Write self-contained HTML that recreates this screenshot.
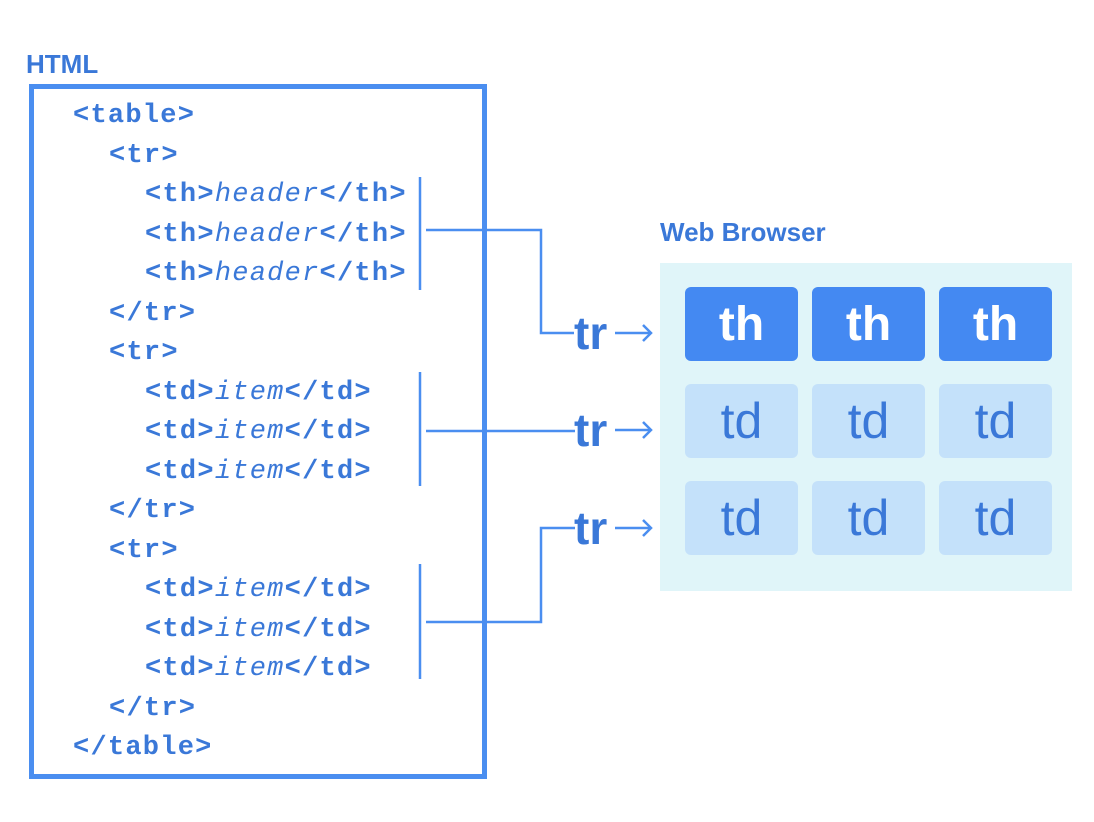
<!DOCTYPE html>
<html><head><meta charset="utf-8"><style>
body{margin:0;width:1094px;height:822px;background:#fff;position:relative;overflow:hidden;font-family:"Liberation Sans",sans-serif;}
.a{position:absolute;white-space:pre;}
.code{font-family:"Liberation Mono","DejaVu Sans Mono",monospace;font-weight:bold;font-size:27px;letter-spacing:1.25px;color:#3a78d8;line-height:30px;}
.code i{font-weight:normal;}
.cell{position:absolute;width:113px;height:74px;border-radius:6px;display:flex;align-items:center;justify-content:center;font-size:48px;}
.th{background:#4489f2;color:#fff;font-weight:bold;}
.td{background:#c4e1fa;color:#3a78d8;font-size:50px;}
.tr{position:absolute;font-weight:bold;font-size:46px;color:#3a78d8;line-height:46px;}
</style></head><body>
<div class="a" style="left:26px;top:49px;font-weight:bold;font-size:26px;color:#3a78d8;">HTML</div>
<div class="a" style="left:660px;top:217px;font-weight:bold;font-size:26px;color:#3a78d8;">Web Browser</div>
<div style="position:absolute;left:29px;top:84px;width:448px;height:685px;border:5px solid #4a8ef0;"></div>

<div class="a code" style="left:73px;top:101px;">&lt;table&gt;</div>
<div class="a code" style="left:109px;top:141px;">&lt;tr&gt;</div>
<div class="a code" style="left:145px;top:180px;">&lt;th&gt;<i>header</i>&lt;/th&gt;</div>
<div class="a code" style="left:145px;top:220px;">&lt;th&gt;<i>header</i>&lt;/th&gt;</div>
<div class="a code" style="left:145px;top:259px;">&lt;th&gt;<i>header</i>&lt;/th&gt;</div>
<div class="a code" style="left:109px;top:299px;">&lt;/tr&gt;</div>
<div class="a code" style="left:109px;top:338px;">&lt;tr&gt;</div>
<div class="a code" style="left:145px;top:378px;">&lt;td&gt;<i>item</i>&lt;/td&gt;</div>
<div class="a code" style="left:145px;top:417px;">&lt;td&gt;<i>item</i>&lt;/td&gt;</div>
<div class="a code" style="left:145px;top:457px;">&lt;td&gt;<i>item</i>&lt;/td&gt;</div>
<div class="a code" style="left:109px;top:496px;">&lt;/tr&gt;</div>
<div class="a code" style="left:109px;top:536px;">&lt;tr&gt;</div>
<div class="a code" style="left:145px;top:575px;">&lt;td&gt;<i>item</i>&lt;/td&gt;</div>
<div class="a code" style="left:145px;top:615px;">&lt;td&gt;<i>item</i>&lt;/td&gt;</div>
<div class="a code" style="left:145px;top:654px;">&lt;td&gt;<i>item</i>&lt;/td&gt;</div>
<div class="a code" style="left:109px;top:694px;">&lt;/tr&gt;</div>
<div class="a code" style="left:73px;top:733px;">&lt;/table&gt;</div>

<svg style="position:absolute;left:0;top:0" width="1094" height="822">
<g stroke="#4a8ef0" stroke-width="2.5" fill="none">
<line x1="420" y1="177" x2="420" y2="290"/>
<line x1="420" y1="372" x2="420" y2="486"/>
<line x1="420" y1="564" x2="420" y2="679"/>
<polyline points="426,230 541,230 541,333 574,333"/>
<polyline points="426,431 575,431"/>
<polyline points="426,622 541,622 541,528 575,528"/>
<line x1="615" y1="333" x2="651" y2="333"/><polyline points="643,325 651,333 643,341"/>
<line x1="615" y1="430" x2="651" y2="430"/><polyline points="643,422 651,430 643,438"/>
<line x1="615" y1="528" x2="651" y2="528"/><polyline points="643,520 651,528 643,536"/>
</g></svg>
<div class="tr" style="left:574px;top:310px;">tr</div>
<div class="tr" style="left:574px;top:407px;">tr</div>
<div class="tr" style="left:574px;top:505px;">tr</div>

<div style="position:absolute;left:660px;top:263px;width:412px;height:328px;background:#e0f5f9;"></div>
<div class="cell th" style="left:685px;top:287px;">th</div>
<div class="cell th" style="left:812px;top:287px;">th</div>
<div class="cell th" style="left:939px;top:287px;">th</div>
<div class="cell td" style="left:685px;top:384px;">td</div>
<div class="cell td" style="left:812px;top:384px;">td</div>
<div class="cell td" style="left:939px;top:384px;">td</div>
<div class="cell td" style="left:685px;top:481px;">td</div>
<div class="cell td" style="left:812px;top:481px;">td</div>
<div class="cell td" style="left:939px;top:481px;">td</div>
</body></html>
